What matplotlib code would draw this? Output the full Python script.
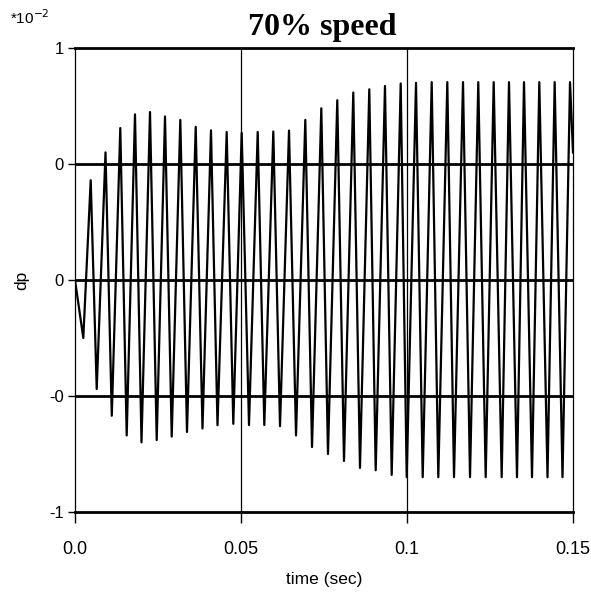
import matplotlib
matplotlib.use("Agg")
import matplotlib.pyplot as plt

# turning points of the dp trace (time in sec, dp in units of 1e-2)
peak_time = [0.0, 0.0025, 0.00473, 0.00654, 0.00919, 0.01108, 0.01364, 0.01557,
             0.01807, 0.02003, 0.02259, 0.02461, 0.02711, 0.02913, 0.03172, 0.03373,
             0.03636, 0.0384, 0.04096, 0.04292, 0.04569, 0.04768, 0.05021, 0.05241,
             0.05503, 0.05702, 0.05973, 0.06175, 0.06446, 0.06657, 0.06937, 0.07139,
             0.07419, 0.0762, 0.079, 0.08102, 0.08382, 0.08584, 0.08864, 0.09057,
             0.09337, 0.09539, 0.0981, 0.09991, 0.10271, 0.10473, 0.10744, 0.10943,
             0.11214, 0.11416, 0.11687, 0.11898, 0.12147, 0.1237, 0.12611, 0.12852,
             0.13072, 0.13313, 0.13524, 0.13765, 0.13985, 0.14232, 0.14448, 0.14684,
             0.1491, 0.15]
peak_dp = [0.0, -0.25, 0.43, -0.47, 0.55, -0.585, 0.655, -0.67,
           0.714, -0.70, 0.724, -0.69, 0.705, -0.675, 0.69, -0.655,
           0.66, -0.64, 0.645, -0.626, 0.638, -0.62, 0.634, -0.625,
           0.638, -0.625, 0.64, -0.63, 0.644, -0.67, 0.69, -0.72,
           0.74, -0.75, 0.775, -0.78, 0.808, -0.81, 0.822, -0.82,
           0.836, -0.84, 0.847, -0.85, 0.85, -0.85, 0.853, -0.85,
           0.853, -0.85, 0.853, -0.85, 0.853, -0.85, 0.853, -0.85,
           0.853, -0.85, 0.853, -0.85, 0.853, -0.85, 0.853, -0.85,
           0.853, 0.55]

x_ticks = [0.0, 0.05, 0.1, 0.15]
x_labels = ["0.0", "0.05", "0.1", "0.15"]
y_ticks = [-1, -0.5, 0, 0.5, 1]
y_labels = ["-1", "-0", "0", "0", "1"]

plt.rcParams['font.family'] = ['Liberation Sans', 'DejaVu Sans']

fig = plt.figure(figsize=(5.91, 5.93), dpi=100)
ax = fig.add_axes([75 / 591, 1 - 512 / 593, 498 / 591, 464 / 593])

# grid: heavy horizontals, thin verticals
for yv in [-0.5, 0, 0.5]:
    ax.axhline(yv, color="black", lw=2.0, zorder=1)
for xv in [0.05, 0.1]:
    ax.axvline(xv, color="black", lw=0.9, zorder=1)

ax.plot(peak_time, peak_dp, color="black", lw=1.6, zorder=3)

ax.set_xlim(0, 0.15)
ax.set_ylim(-1, 1)
ax.set_xticks(x_ticks)
ax.set_xticklabels(x_labels)
ax.set_yticks(y_ticks)
ax.set_yticklabels(y_labels)
ax.tick_params(axis="x", direction="out", length=8, width=1, labelsize=13, pad=13)
ax.tick_params(axis="y", direction="out", length=5, width=1, labelsize=12, pad=3)

ax.spines["top"].set_linewidth(2.0)
ax.spines["bottom"].set_linewidth(2.0)
ax.spines["left"].set_linewidth(0.9)
ax.spines["right"].set_linewidth(0.9)

ax.set_xlabel("time (sec)", fontsize=12.5, labelpad=10)
ax.set_ylabel("dp", fontsize=12.5, labelpad=14)

fig.text(322 / 591, 1 - 28 / 593, "70% speed", ha="center", va="center",
         fontsize=23, fontweight="bold", family="Liberation Serif")
fig.text(10 / 591, 1 - 18 / 593, r"*10$^{-2}$", ha="left", va="center", fontsize=11)

fig.savefig("out.png", dpi=100)
